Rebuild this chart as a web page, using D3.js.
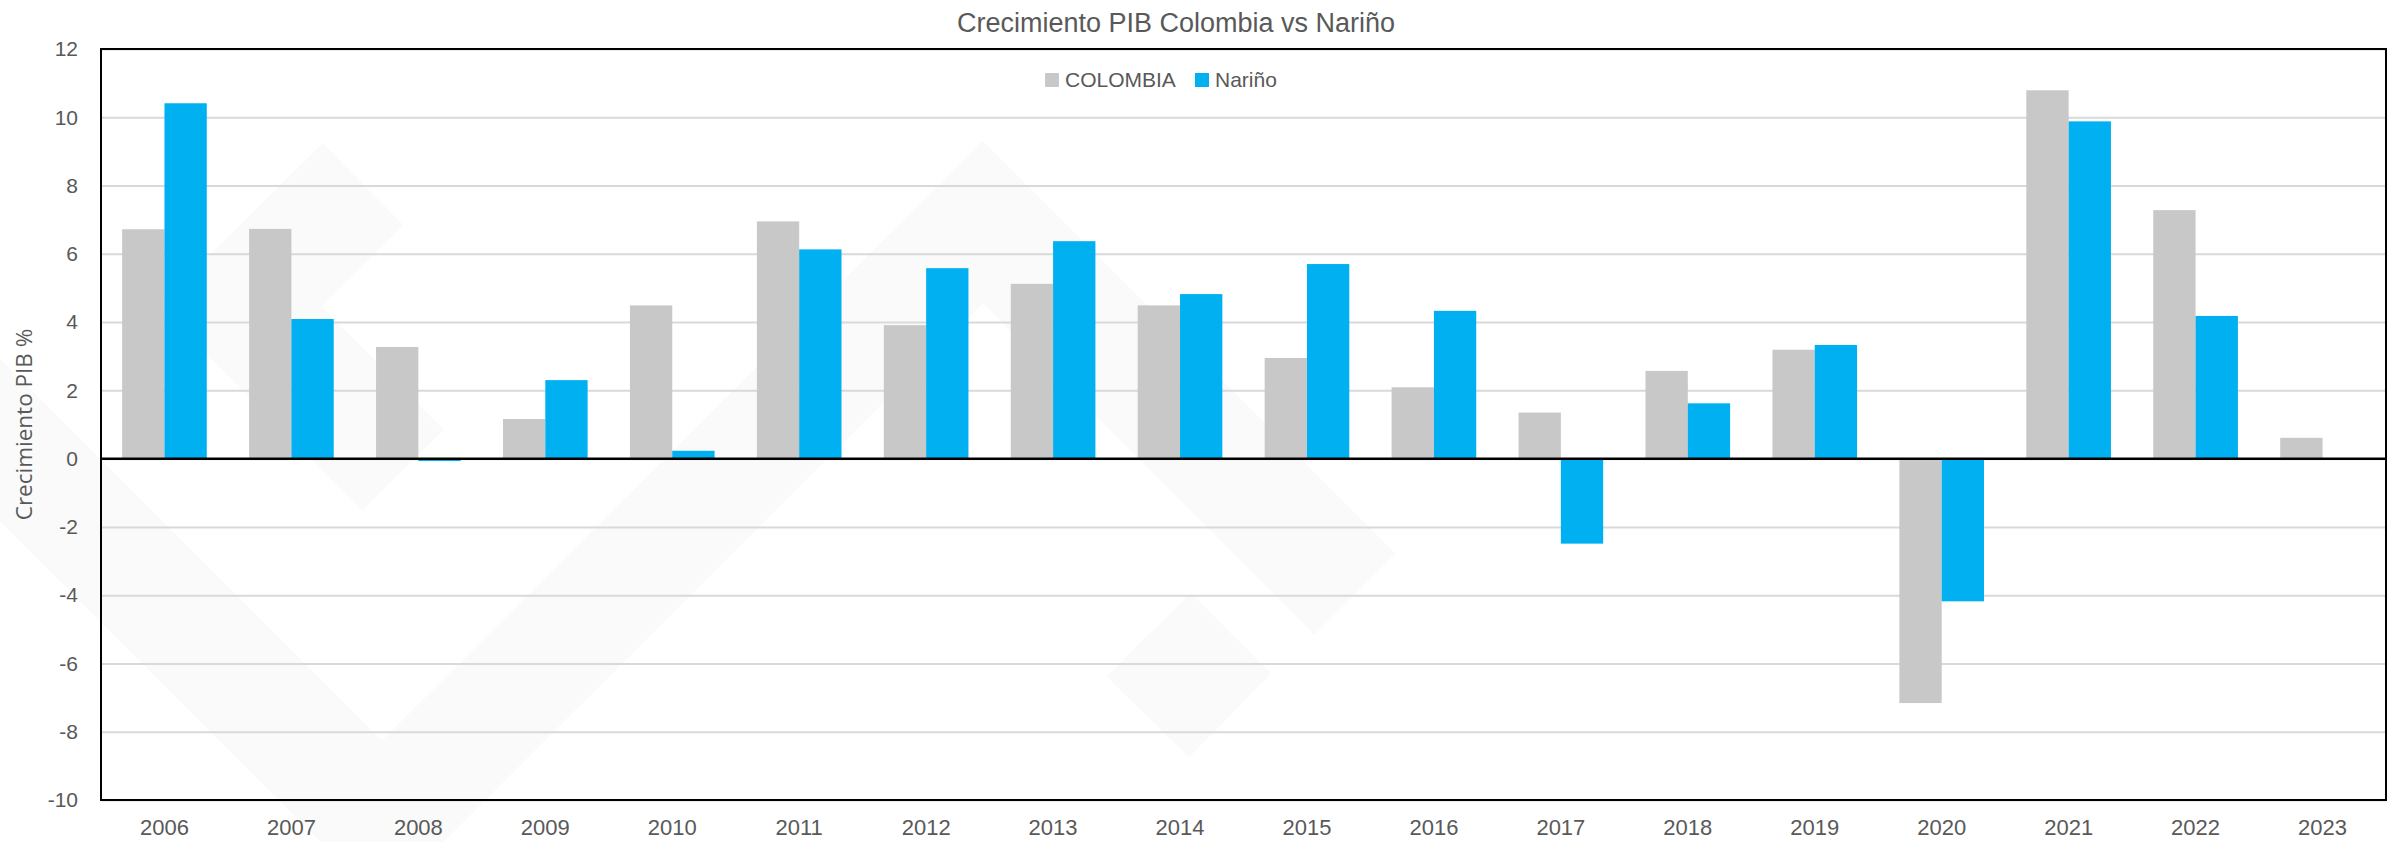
<!DOCTYPE html>
<html>
<head>
<meta charset="utf-8">
<script src="https://cdn.jsdelivr.net/npm/d3@7"></script>
<style>
  body { margin: 0; background: #fff; }
  .tick-label { font-family: "Liberation Sans", Arial, sans-serif; fill: #595959; }
</style>
</head>
<body>
<div id="chart"></div>
<script>
// data
var years = ["2006", "2007", "2008", "2009", "2010", "2011", "2012", "2013", "2014",
  "2015", "2016", "2017", "2018", "2019", "2020", "2021", "2022", "2023"];
var colombia = [6.72, 6.73, 3.27, 1.16, 4.49, 6.95, 3.91, 5.12, 4.49,
  2.95, 2.09, 1.35, 2.57, 3.19, -7.16, 10.79, 7.28, 0.61];
var narino = [10.41, 4.09, -0.07, 2.30, 0.23, 6.13, 5.58, 6.37, 4.82,
  5.70, 4.33, -2.49, 1.62, 3.33, -4.18, 9.88, 4.18, null];
var seriesNames = ["COLOMBIA", "Nariño"];
var yTicks = [-10, -8, -6, -4, -2, 0, 2, 4, 6, 8, 10, 12];

var barColors = ["#c8c8c8", "#00b0f0"];

var W = 2407, H = 842;
var margin = { top: 49, right: 21, bottom: 42, left: 101 };
var innerW = W - margin.left - margin.right;
var innerH = H - margin.top - margin.bottom;

var svg = d3.select("#chart").append("svg")
  .attr("width", W).attr("height", H);

// faint logo watermark behind the chart (decoration only)
var watermark = [
  [[-60, 380], [382, 822], [983, 222], [1355, 594]],
  [[363, 184], [240, 306], [403, 470]],
  [[1150, 634], [1190, 674], [1148, 717]]
];
svg.append("g")
  .selectAll("path")
  .data(watermark)
  .enter().append("path")
  .attr("d", d3.line())
  .attr("fill", "none")
  .attr("stroke", "#fafafa")
  .attr("stroke-width", 115)
  .attr("stroke-linejoin", "miter")
  .attr("stroke-miterlimit", 4);

var g = svg.append("g")
  .attr("transform", `translate(${margin.left}, ${margin.top})`);

var x0 = d3.scaleBand()
  .domain(years)
  .range([0, innerW])
  .paddingInner(1 / 3)
  .paddingOuter(1 / 6);

var x1 = d3.scaleBand()
  .domain(seriesNames)
  .range([0, x0.bandwidth()]);

var yScale = d3.scaleLinear()
  .domain([-10, 12])
  .range([innerH, 0]);

// gridlines
g.append("g")
  .call(d3.axisLeft(yScale).tickValues(yTicks).tickSize(-innerW).tickFormat(""))
  .call(function (a) {
    a.select(".domain").remove();
    a.selectAll("line").attr("stroke", "#d9d9d9").attr("stroke-width", 2);
  });

// bars
var rows = years.map(function (d, i) {
  return { year: d, values: [colombia[i], narino[i]] };
});

var group = g.selectAll(".year").data(rows).enter().append("g")
  .attr("class", "year")
  .attr("transform", function (d) { return `translate(${x0(d.year)}, 0)`; });

group.selectAll("rect")
  .data(function (d) {
    return d.values.map(function (v, j) { return { key: seriesNames[j], value: v, j: j }; })
      .filter(function (e) { return e.value !== null; });
  })
  .enter().append("rect")
  .attr("x", function (d) { return x1(d.key); })
  .attr("y", function (d) { return yScale(Math.max(0, d.value)); })
  .attr("width", x1.bandwidth())
  .attr("height", function (d) { return Math.abs(yScale(d.value) - yScale(0)); })
  .attr("fill", function (d) { return barColors[d.j]; });

// zero line
g.append("line")
  .attr("x1", 0).attr("x2", innerW)
  .attr("y1", yScale(0)).attr("y2", yScale(0))
  .attr("stroke", "#000").attr("stroke-width", 2.5);

// plot frame
g.append("rect")
  .attr("x", 0).attr("y", 0)
  .attr("width", innerW).attr("height", innerH)
  .attr("fill", "none")
  .attr("stroke", "#000").attr("stroke-width", 2);

// y tick labels
g.append("g")
  .call(d3.axisLeft(yScale).tickValues(yTicks).tickSize(0).tickPadding(23)
    .tickFormat(function (d) { return String(d); }))
  .call(function (a) {
    a.select(".domain").remove();
    a.selectAll("text").attr("class", "tick-label").style("font-size", "21px");
  });

// x tick labels
g.append("g")
  .attr("transform", `translate(0, ${innerH})`)
  .call(d3.axisBottom(x0).tickSize(0).tickPadding(19))
  .call(function (a) {
    a.select(".domain").remove();
    a.selectAll("text").attr("class", "tick-label").style("font-size", "22px");
  });

// axis title
svg.append("text")
  .attr("transform", `translate(32, ${margin.top + innerH / 2}) rotate(-90)`)
  .attr("text-anchor", "middle")
  .style("font-family", "'Open Sans', sans-serif")
  .style("font-size", "22.5px")
  .style("fill", "#595959")
  .text("Crecimiento PIB %");

// title
svg.append("text")
  .attr("x", 1176).attr("y", 32)
  .attr("text-anchor", "middle")
  .style("font-family", "'Liberation Sans', Arial, sans-serif")
  .style("font-size", "27px")
  .style("fill", "#595959")
  .text("Crecimiento PIB Colombia vs Nariño");

// legend
var legend = svg.append("g").attr("transform", "translate(1045, 73)");
var legendX = [0, 150];
seriesNames.forEach(function (name, i) {
  var item = legend.append("g").attr("transform", `translate(${legendX[i]}, 0)`);
  item.append("rect")
    .attr("width", 14).attr("height", 14)
    .attr("fill", barColors[i]);
  item.append("text")
    .attr("x", 20).attr("y", 14)
    .attr("class", "tick-label")
    .style("font-size", "21px")
    .text(name);
});
</script>
</body>
</html>
